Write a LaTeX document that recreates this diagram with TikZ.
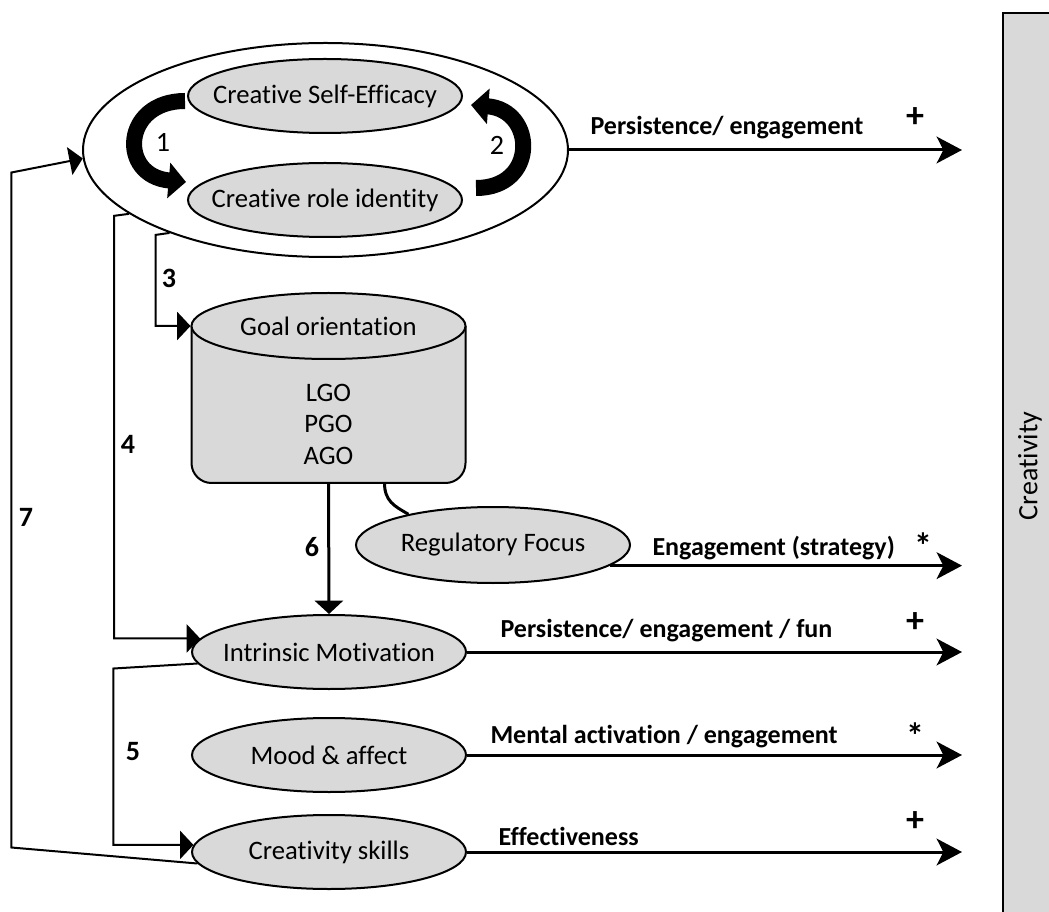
\documentclass[tikz,border=0pt]{standalone}
\usepackage{fontspec}
\setmainfont{Carlito}[Ligatures=NoCommon]
\usetikzlibrary{arrows.meta,shapes.geometric,positioning,calc}

\definecolor{shadegrey}{RGB}{217,217,217}

\tikzset{every picture/.style={line width=0.75pt}}
\tikzset{
  bubble/.style={ellipse, draw, line width=1.5pt, fill=shadegrey, inner sep=0pt,
    minimum width=205.5pt, minimum height=55.5pt,
    label={[inner sep=0pt, font=\fontsize{20}{24}\selectfont]center:#1}},
  link/.style={line width=1.5pt, -{Triangle[length=10pt,width=21pt]}},
  outlink/.style={line width=2.25pt, -{Stealth[length=19pt,width=20pt,inset=5pt]}},
  loopy/.style={line width=12pt, -{Triangle[length=13pt,width=26pt]}},
  effect/.style={anchor=west, inner sep=0pt, font=\fontsize{19.5}{23}\selectfont\bfseries},
  sign/.style={inner sep=0pt, font=\fontsize{27}{30}\selectfont\bfseries},
  pathno/.style={inner sep=0pt, font=\fontsize{21}{25}\selectfont\bfseries},
  loopno/.style={inner sep=0pt, font=\fontsize{21}{25}\selectfont}
}

\begin{document}
\begin{tikzpicture}[x=0.75pt,y=0.75pt,yscale=-1,xscale=1]
\useasboundingbox (0,0) rectangle (1049,912);

%Shape: Rectangle
\draw [line width=1.5pt, fill=shadegrey] (1003,13) rectangle (1065,930);
% Text Node
\node [rotate=90, inner sep=0pt, font=\fontsize{21}{25}\selectfont] (creativity) at (1030,466) {Creativity};
\coordinate (tips) at (962,0);

%Shape: Ellipse
\node [ellipse, draw, line width=1.5pt, fill=white, inner sep=0pt, minimum width=363.75pt, minimum height=160.5pt] (self) at (325.5,150) {};
\node [bubble={Creative Self-Efficacy}] (cse) at (325,96) {};
\node [bubble={Creative role identity}] (cri) at (325,200) {};

%Curved Arrows
\draw [loopy] ($(cse.west)+(-2,5)$) .. controls +(-63,0) and +(-68,-6) .. ($(cri.west)+(-1,-18)$);
\draw [loopy] ($(cri.east)+(13,-12)$) .. controls +(62,0) and +(65,5) .. ($(cse.east)+(8,9)$);
\node [loopno] (one) at (163,142) {1};
\node [loopno] (two) at (497,145) {2};

%Shape: Can
\node [inner sep=0pt, outer sep=0pt, minimum width=205.5pt, minimum height=117.75pt] (goalbody) at (328.5,404.5) {};
\filldraw [line width=1.5pt, fill=shadegrey, rounded corners=15pt] (goalbody.north west) -- (goalbody.south west) -- (goalbody.south east) -- (goalbody.north east);
\node [bubble={Goal orientation}, minimum height=49.5pt] (goal) at (goalbody.north) {};
\node [align=center, inner sep=0pt, font=\fontsize{20}{23.6}\selectfont] (goallist) at (328.5,424) {LGO\\PGO\\AGO};

%Shape: Ellipse
\node [bubble={Regulatory Focus}, minimum height=57pt] (reg) at (493,545) {};
\node [bubble={Intrinsic Motivation}] (im) at (329,652) {};
\node [bubble={Mood \& affect}] (mood) at (329,755) {};
\node [bubble={Creativity skills}] (skills) at (329,852) {};

%Straight Lines
\draw [line width=2.25pt] ([xshift=42pt]goalbody.south) .. controls +(0,18) and +(-14,-8) .. (reg.160);
\draw [link] (self.208) -- ++(-14,2) |- (goal.west);
\draw [link] (self.198) -- ++(-15,2) |- (im.174);
\draw [link] (im.185) -- ++(-84,5) |- (skills.177);
\draw [link, line width=2.25pt] (goalbody.south) -- (im.north);
\draw [link] (skills.185) -- ++(-186,-16) -- ++(0,-675) -- (self.182);

\node [pathno] (three) at (169,278) {3};
\node [pathno] (four) at (128,444) {4};
\node [pathno] (five) at (133,752) {5};
\node [pathno] (six) at (312,547) {6};
\node [pathno] (seven) at (26,517) {7};

%Straight Lines
\draw [outlink] (self.east) -- (self.east -| tips);
\draw [outlink] (reg.-10) -- (reg.-10 -| tips);
\draw [outlink] (im.east) -- (im.east -| tips);
\draw [outlink] (mood.east) -- (mood.east -| tips);
\draw [outlink] (skills.east) -- (skills.east -| tips);

% Text Node
\node [effect] (effself) at (590,128) {Persistence/ engagement};
\node [sign] (signself) at (915,118) {+};
\node [effect] (effreg) at (652,548) {Engagement (strategy)};
\node [sign] (signreg) at (923,546) {*};
\node [effect] (effim) at (500,631) {Persistence/ engagement / fun};
\node [sign] (signim) at (915,623) {+};
\node [effect] (effmood) at (490,737) {Mental activation / engagement};
\node [sign] (signmood) at (915,736) {*};
\node [effect] (effskills) at (498,836) {Effectiveness};
\node [sign] (signskills) at (915,822) {+};

\end{tikzpicture}
\end{document}
